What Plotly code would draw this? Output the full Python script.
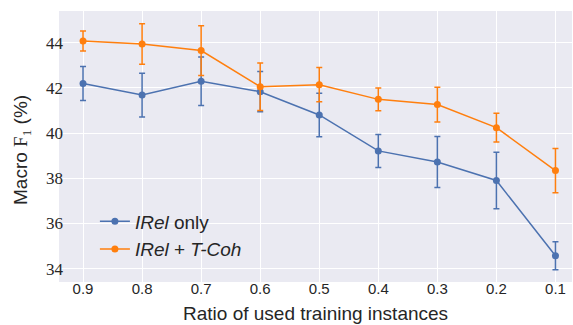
import plotly.graph_objects as go

ratios = [0.9, 0.8, 0.7, 0.6, 0.5, 0.4, 0.3, 0.2, 0.1]
tick_labels = ["0.9", "0.8", "0.7", "0.6", "0.5", "0.4", "0.3", "0.2", "0.1"]

irel_only = [42.19, 41.68, 42.29, 41.83, 40.80, 39.21, 38.72, 37.90, 34.57]
irel_only_err = [0.75, 0.97, 1.07, 0.89, 0.96, 0.73, 1.13, 1.25, 0.62]

irel_tcoh = [44.07, 43.94, 43.65, 42.05, 42.14, 41.49, 41.26, 40.24, 38.34]
irel_tcoh_err = [0.44, 0.90, 1.10, 1.05, 0.76, 0.50, 0.77, 0.64, 0.98]

y_ticks = [34, 36, 38, 40, 42, 44]

BLUE = "#4c72b0"
ORANGE = "#ff7f0e"
TXT = "#262626"
SANS = "Liberation Sans, DejaVu Sans, sans-serif"
SERIF = "Liberation Serif, DejaVu Serif, serif"

fig = go.Figure()
for name, vals, errs, col in [
    ("<i>IRel</i> only", irel_only, irel_only_err, BLUE),
    ("<i>IRel</i> + <i>T-Coh</i>", irel_tcoh, irel_tcoh_err, ORANGE),
]:
    fig.add_trace(go.Scatter(
        x=ratios, y=vals, name=name, mode="lines+markers",
        line=dict(color=col, width=1.5),
        marker=dict(color=col, size=7),
        error_y=dict(type="data", array=errs, visible=True, color=col,
                     thickness=1.5, width=3),
    ))

fig.update_layout(
    width=573, height=325,
    margin=dict(l=59, r=1, t=11, b=43, autoexpand=False),
    paper_bgcolor="white",
    plot_bgcolor="#eaeaf2",
    font=dict(family=SANS, color=TXT),
    showlegend=True,
    legend=dict(
        x=0.07, y=0.05, xanchor="left", yanchor="bottom",
        bgcolor="rgba(0,0,0,0)",
        font=dict(size=19, family=SANS, color=TXT),
        tracegroupgap=0, itemwidth=30,
    ),
    xaxis=dict(
        range=[0.9407, 0.072],
        tickvals=ratios, ticktext=tick_labels,
        showgrid=True, gridcolor="white", gridwidth=1,
        zeroline=False, showline=False, ticks="",
        automargin=False, ticklabelstandoff=-4,
        tickfont=dict(size=15, family=SANS, color=TXT),
    ),
    yaxis=dict(
        range=[33.41, 45.40],
        tickvals=y_ticks, ticktext=[str(v) for v in y_ticks],
        showgrid=True, gridcolor="white", gridwidth=1,
        zeroline=False, showline=False, ticks="",
        automargin=False, ticklabelstandoff=-5,
        tickfont=dict(size=17, family=SERIF, color=TXT),
    ),
    annotations=[
        dict(text="Ratio of used training instances", xref="paper", yref="paper",
             x=0.5, y=(282 - 313) / 271, xanchor="center", yanchor="middle",
             showarrow=False, font=dict(size=19, family=SANS, color=TXT)),
        dict(text='Macro <span style="font-family:Liberation Serif">F<sub>1</sub></span> (%)',
             xref="paper", yref="paper",
             x=(22 - 59) / 513, y=(282 - 150) / 271, xanchor="center", yanchor="middle",
             textangle=-90, showarrow=False,
             font=dict(size=19, family=SANS, color=TXT)),
    ],
)

fig.write_html(
    "out.html",
    config={"displayModeBar": False},
    post_script="document.body.style.margin='0';document.body.style.overflow='hidden';",
)
